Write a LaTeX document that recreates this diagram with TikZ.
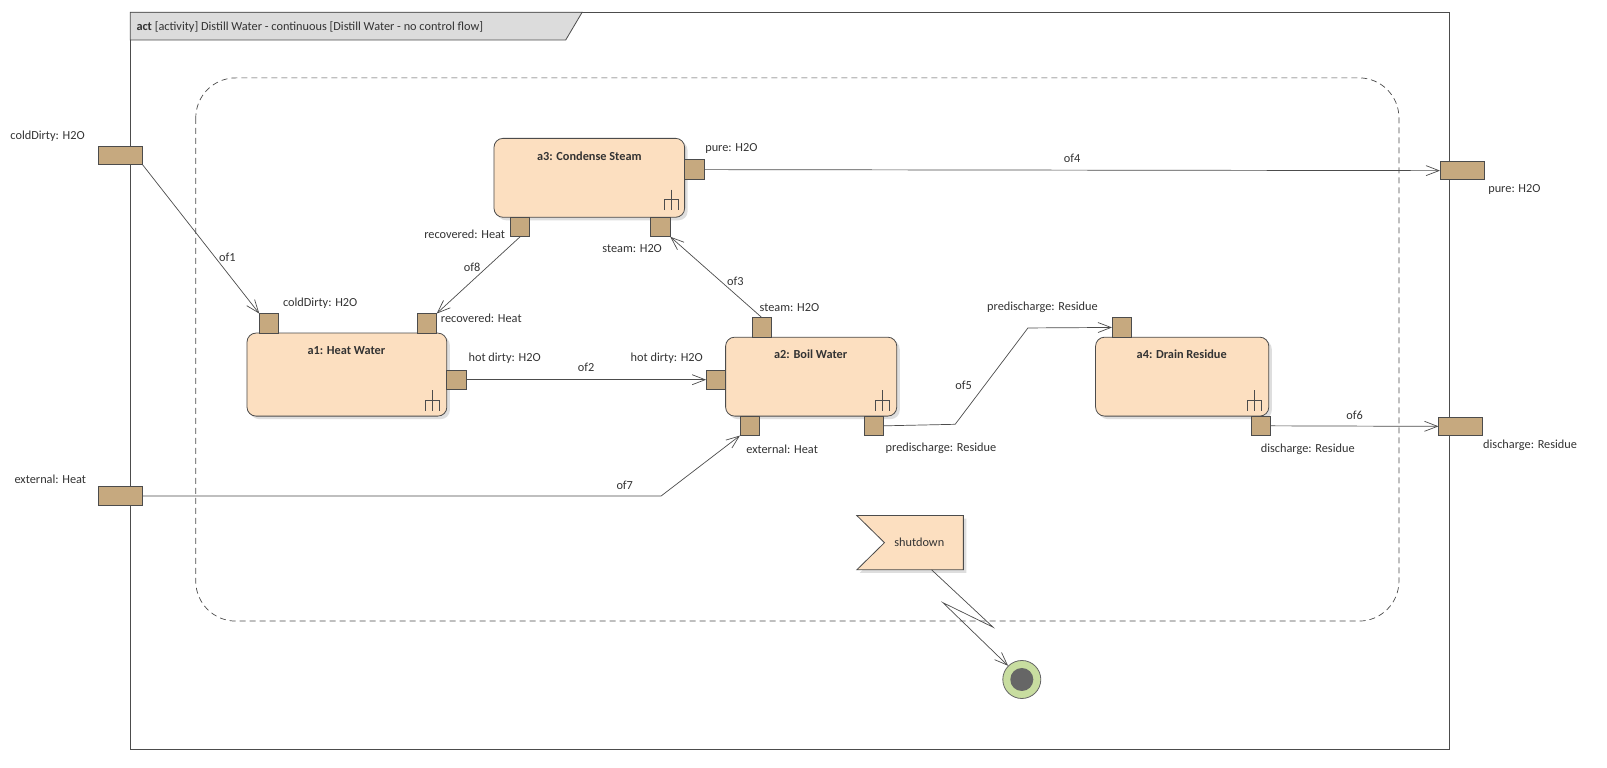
\documentclass[tikz,border=0pt]{standalone}
\usepackage{fontspec}
\setmainfont{Carlito}
\usetikzlibrary{arrows.meta,shadows,calc}

\definecolor{actfill}{HTML}{FCDFC0}
\definecolor{pinfill}{HTML}{C6A97F}
\definecolor{hdrfill}{HTML}{DCDCDC}
\definecolor{finring}{HTML}{C8DDA0}

\tikzset{
  lbl/.style={font=\fontsize{12.3}{14}\selectfont, text=black!80, inner sep=0pt},
  action/.style={draw=black!70, line width=0.8pt, fill=actfill, rounded corners=9pt, drop shadow={shadow xshift=3pt, shadow yshift=-3pt, fill=black!25}},
  pin/.style={draw=black!70, line width=0.8pt, fill=pinfill, minimum size=19.5pt, inner sep=0pt, outer sep=0pt},
  fpin/.style={draw=black!70, line width=0.8pt, fill=pinfill, minimum width=44pt, minimum height=18.5pt, inner sep=0pt, outer sep=0pt},
  flow/.style={draw=black!70, line width=0.7pt, -{Straight Barb[length=13pt,width=10pt]}},
}
\newcommand{\rake}[2]{% fork icon
  \draw[black!70] (#1,#2-11) -- (#1,#2+9) (#1-7,#2+9) -- (#1-7,#2-2) -- (#1+7,#2-2) -- (#1+7,#2+9);}

\begin{document}
\begin{tikzpicture}[x=1.025pt,y=-1.025pt]
  \useasboundingbox (0,0) rectangle (1568,749);
  % frame
  \draw[black!70, line width=1pt, fill=white] (127,12) rectangle (1414,731);
  \draw[black!70, line width=0.8pt, fill=hdrfill] (127,12) -- (568,12) -- (552,39) -- (127,39) -- cycle;
  \node[lbl, anchor=west] at (133,26) {\textbf{act} [activity] Distill Water - continuous [Distill Water - no control flow]};
  % interruptible region
  \draw[black!70, line width=0.7pt, dash pattern=on 6pt off 4pt, rounded corners=40pt] (191,76) rectangle (1365,606);

  % actions
  \draw[action] (482,135) rectangle (668,212);
  \node[lbl] (a3) at (575,152) {\textbf{a3: Condense Steam}};
  \draw[action] (241,325) rectangle (436,406);
  \node[lbl] (a1) at (338,342) {\textbf{a1: Heat Water}};
  \draw[action] (708,329) rectangle (875,406);
  \node[lbl] (a2) at (791,346) {\textbf{a2: Boil Water}};
  \draw[action] (1069,329) rectangle (1238,406);
  \node[lbl] (a4) at (1153,346) {\textbf{a4: Drain Residue}};
  \rake{655}{196}
  \rake{422}{392}
  \rake{861}{392}
  \rake{1224}{392}

  % activity parameter pins
  \node[fpin] (pcold) at (117.5,151.5) {};
  \node[fpin] (pext) at (117.5,484) {};
  \node[fpin] (ppure) at (1426.5,166.5) {};
  \node[fpin] (pdis) at (1425,416) {};

  % action pins
  \node[pin] (a3pure) at (677.5,165.5) {};
  \node[pin] (a3rec) at (507.5,221.5) {};
  \node[pin] (a3steam) at (644.5,221.5) {};
  \node[pin] (a1cold) at (262.5,315.5) {};
  \node[pin] (a1rec) at (416.5,315.5) {};
  \node[pin] (a1hot) at (445.5,370.5) {};
  \node[pin] (a2hot) at (698.5,370.5) {};
  \node[pin] (a2steam) at (743.5,319.5) {};
  \node[pin] (a2ext) at (731.5,415.5) {};
  \node[pin] (a2pre) at (852.5,415.5) {};
  \node[pin] (a4pre) at (1094.5,319.5) {};
  \node[pin] (a4dis) at (1230.5,415.5) {};

  % pin labels
  \node[lbl, anchor=west] at (10,133) {coldDirty: H2O};
  \node[lbl, anchor=west] at (14,468) {external: Heat};
  \node[lbl, anchor=west] at (1452,185) {pure: H2O};
  \node[lbl, anchor=west] at (1447,434) {discharge: Residue};
  \node[lbl, anchor=west] at (688,145) {pure: H2O};
  \node[lbl, anchor=east] at (493,229) {recovered: Heat};
  \node[lbl, anchor=east] at (646,243) {steam: H2O};
  \node[lbl, anchor=west] at (276,296) {coldDirty: H2O};
  \node[lbl, anchor=west] at (430,311) {recovered: Heat};
  \node[lbl, anchor=west] at (457,350) {hot dirty: H2O};
  \node[lbl, anchor=east] at (686,350) {hot dirty: H2O};
  \node[lbl, anchor=west] at (741,300) {steam: H2O};
  \node[lbl, anchor=west] at (728,438) {external: Heat};
  \node[lbl, anchor=west] at (864,437) {predischarge: Residue};
  \node[lbl, anchor=west] at (963,300) {predischarge: Residue};
  \node[lbl, anchor=west] at (1230,438) {discharge: Residue};

  % object flows
  \draw[flow] (pcold.south east) -- (a1cold.north west) node[lbl, pos=0.62, right=4pt] {of1};
  \draw[flow] (a3rec.south) -- (a1rec.north east) node[lbl, pos=0.4, left=6pt] {of8};
  \draw[flow] (a2steam.north) -- (a3steam.south east) node[lbl, pos=0.45, right=6pt] {of3};
  \draw[flow] (a3pure.east) -- (ppure.west) node[lbl, midway, above=7pt] {of4};
  \draw[flow] (a1hot.east) -- (a2hot.west) node[lbl, midway, above=8pt] {of2};
  \draw[flow] (a2pre.east) -- (932,414) -- node[lbl, pos=0.4, left=12pt] {of5} (1003,320) -- (a4pre.west);
  \draw[flow] (a4dis.east) -- (pdis.west) node[lbl, midway, above=6pt] {of6};
  \draw[flow] (pext.east) -- node[lbl, pos=0.93, above=6pt] {of7} (645,484) -- (a2ext.south west);

  % accept event and final node
  \draw[action, rounded corners=0pt] (836,503) -- (940,503) -- (940,556) -- (836,556) -- (863,529.5) -- cycle;
  \node[lbl] (shut) at (897,529) {shutdown};
  \coordinate (shutb) at (909,556);
  \node[draw=black!60, line width=0.8pt, fill=finring, circle, minimum size=38pt, inner sep=0pt] (fin) at (997,663) {};
  \fill[black!60] (fin) circle (11.5pt);
  \draw[flow] (shutb) -- (969,612) -- (920,588) -- (fin.north west);
\end{tikzpicture}
\end{document}
